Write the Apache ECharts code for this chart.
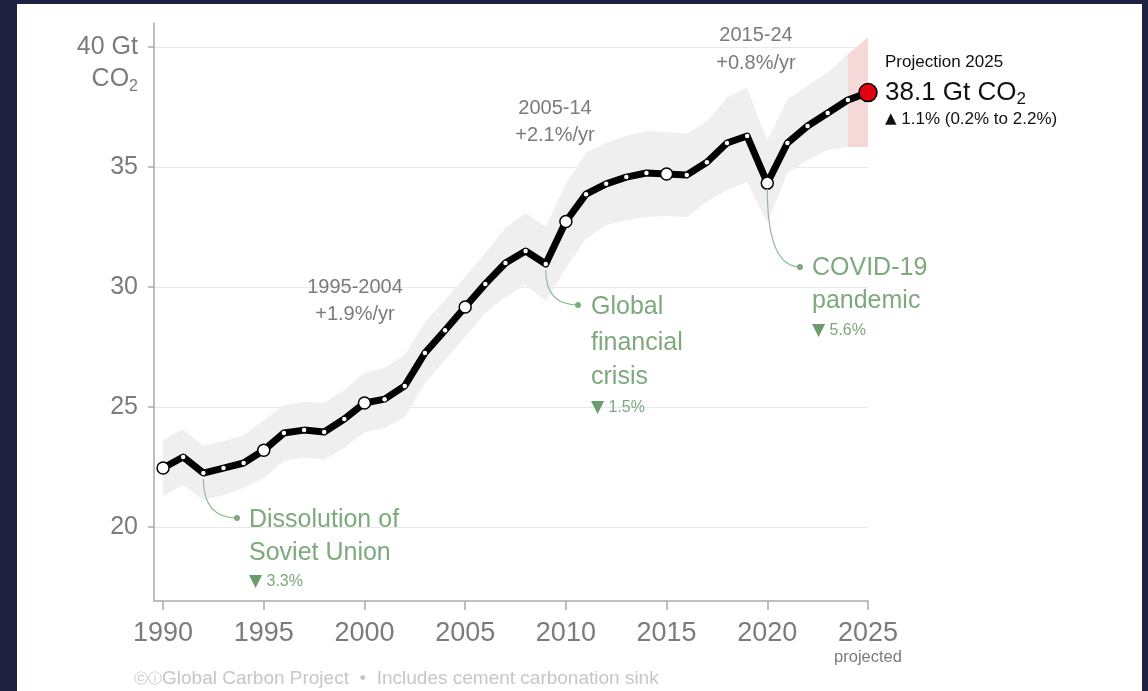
<!DOCTYPE html>
<html><head><meta charset="utf-8">
<script src="https://cdn.jsdelivr.net/npm/echarts@6/dist/echarts.min.js"></script>
<style>
html,body{margin:0;padding:0;width:1148px;height:691px;background:#1d2142;overflow:hidden}
#panel{position:absolute;left:17px;top:4px;width:1125px;height:687px;background:#fff}
#chart{position:absolute;left:0;top:0;width:1148px;height:691px}
</style></head><body>
<div id="panel"></div><div id="chart"></div>
<script>
// ---- data ----
const years = [1990,1991,1992,1993,1994,1995,1996,1997,1998,1999,2000,2001,2002,2003,2004,2005,2006,2007,2008,2009,2010,2011,2012,2013,2014,2015,2016,2017,2018,2019,2020,2021,2022,2023,2024,2025];
const emissions = [22.46,22.92,22.25,22.46,22.67,23.2,23.92,24.04,23.96,24.5,25.17,25.33,25.88,27.25,28.2,29.17,30.13,31.0,31.5,30.96,32.73,33.87,34.3,34.58,34.75,34.71,34.67,35.2,36.0,36.29,34.33,36.0,36.71,37.25,37.79,38.1];
const bandYears = [1990,1991,1992,1993,1994,1995,1996,1997,1998,1999,2000,2001,2002,2003,2004,2005,2006,2007,2008,2009,2010,2011,2012,2013,2014,2015,2016,2017,2018,2019,2020,2021,2022,2023,2024];
const bandHigh = [23.63,24.08,23.38,23.58,23.83,24.45,25.08,25.21,25.17,25.71,26.42,26.63,27.17,28.54,29.46,30.42,31.42,32.46,33.08,32.5,34.3,35.6,36.0,36.3,36.5,36.45,36.4,36.9,37.9,38.3,36.1,37.8,38.4,38.95,39.7];
const bandLow = [21.29,21.75,21.13,21.33,21.63,22.05,22.75,22.9,22.8,23.3,23.95,24.13,24.58,26.0,26.96,27.92,28.92,29.58,30.08,29.42,30.8,32.0,32.58,32.79,32.92,32.96,32.92,33.54,34.04,34.38,32.69,34.75,35.29,35.71,35.83];
const projYears = [2024,2025];
const projHigh = [39.7,40.4];
const projLow = [35.83,35.83];
const xTicks = [1990,1995,2000,2005,2010,2015,2020,2025];
const yTicks = [20,25,30,35,40];

// ---- styling ----
const SANS = "'Liberation Sans', Arial, Helvetica, sans-serif";
const GRAY = '#7b7b7b';
const GREEN = '#7ea97e';
const GREEN_DARK = '#6c9c6c';

const chart = echarts.init(document.getElementById('chart'), null, {renderer:'canvas'});

const lineData = years.map((y,i)=>{
  const isProj = i === years.length-1;
  const big = (y % 5 === 0) && !isProj;
  return {
    value:[y, emissions[i]],
    symbolSize: isProj ? 18 : (big ? 12 : 4.5),
    itemStyle: { color: isProj ? '#e3000f' : '#ffffff', borderColor:'#000', borderWidth: (isProj||big) ? 1.5 : 0 }
  };
});

function bandSeries(xs, lows, highs, fill) {
  return {
    type:'custom', coordinateSystem:'cartesian2d', silent:true, z:1, clip:false,
    data: xs.map((x,i)=>[x, lows[i], highs[i]]),
    encode:{x:0, y:[1,2]},
    renderItem:(params, api)=>{
      if (params.dataIndex !== 0) return null;
      const top = xs.map((x,i)=>api.coord([x, highs[i]]));
      const bot = xs.map((x,i)=>api.coord([x, lows[i]])).reverse();
      return {type:'polygon', shape:{points: top.concat(bot)}, style:{fill:fill}};
    }
  };
}

const option = {
  animation:false,
  backgroundColor:'transparent',
  grid:{left:154, right:280, top:23, bottom:90, containLabel:false},
  xAxis:{
    type:'value', min:1989.55, max:2025,
    axisLine:{show:true, lineStyle:{color:'#aaaaaa', width:1.5}},
    axisTick:{show:true, length:9, customValues:xTicks, lineStyle:{color:'#aaaaaa', width:1.5}},
    splitLine:{show:false},
    axisLabel:{
      customValues:xTicks, margin:18, color:GRAY,
      formatter:(v)=> v===2025 ? '{y|2025}\n{p|projected}' : '{y|'+v+'}',
      rich:{
        y:{fontFamily:SANS, fontSize:27, lineHeight:30, color:GRAY},
        p:{fontFamily:SANS, fontSize:16.5, lineHeight:16, color:GRAY}
      }
    }
  },
  yAxis:{
    type:'value', min:16.92, max:41,
    axisLine:{show:true, lineStyle:{color:'#aaaaaa', width:1.5}},
    axisTick:{show:true, length:6, customValues:yTicks, lineStyle:{color:'#aaaaaa', width:1.5}},
    splitLine:{show:true, lineStyle:{color:'#e8e8e8', width:1.2}},
    axisLabel:{
      customValues:yTicks, margin:16, color:GRAY,
      formatter:(v)=> v===40 ? '{e| }\n{a|40 Gt}\n{b|CO}{s|2}' : '{a|'+v+'}',
      rich:{
        e:{fontFamily:SANS, fontSize:25, lineHeight:32},
        a:{fontFamily:SANS, fontSize:25, lineHeight:32, color:GRAY},
        b:{fontFamily:SANS, fontSize:25, lineHeight:32, color:GRAY},
        s:{fontFamily:SANS, fontSize:16, lineHeight:32, color:GRAY, verticalAlign:'bottom'}
      }
    }
  },
  series:[
    bandSeries(bandYears, bandLow, bandHigh, '#efefef'),
    bandSeries(projYears, projLow, projHigh, '#f5d8d8'),
    {type:'line', data:lineData, z:5, symbol:'circle', showAllSymbol:true,
     lineStyle:{color:'#000', width:7, join:'round', cap:'round'}, silent:true}
  ]
};
chart.setOption(option);

// ---- annotations ----
function txt(x, y, text, opt) {
  return {type:'text', x:x, y:y, z:30, silent:true,
    style:Object.assign({text:text, fill:GRAY, fontFamily:SANS, fontSize:20, align:'left', verticalAlign:'middle'}, opt||{})};
}
function connector(year, value, dx, dy) {
  const p = chart.convertToPixel({gridIndex:0}, [year, value]);
  const sx = p[0], sy = p[1] + 6;
  return [
    {type:'bezierCurve', z:25, silent:true, shape:{x1:sx, y1:sy, x2:dx, y2:dy, cpx1:sx, cpy1:dy}, style:{stroke:'#93bb93', lineWidth:1.2, fill:null}},
    {type:'circle', z:26, silent:true, shape:{cx:dx, cy:dy, r:3}, style:{fill:GREEN}}
  ];
}
const pctRich = {t:{fontFamily:"'DejaVu Sans', sans-serif", fontSize:17, fill:GREEN_DARK, color:GREEN_DARK}, p:{fontFamily:SANS, fontSize:16, fill:GREEN, color:GREEN}};
const G = {fill:GREEN, fontSize:25};
const graphics = [].concat(
  connector(1992, emissions[2], 237, 518),
  connector(2009, emissions[19], 578, 305),
  connector(2020, emissions[30], 800, 267),
  [
    txt(249, 520, 'Dissolution of', G),
    txt(249, 553, 'Soviet Union', G),
    txt(249, 582, '{t|▼}{p| 3.3%}', {rich:pctRich}),
    txt(591, 307, 'Global', G),
    txt(591, 343, 'financial', G),
    txt(591, 377, 'crisis', G),
    txt(591, 408, '{t|▼}{p| 1.5%}', {rich:pctRich}),
    txt(812, 268, 'COVID-19', G),
    txt(812, 301, 'pandemic', G),
    txt(812, 331, '{t|▼}{p| 5.6%}', {rich:pctRich}),

    txt(355, 287, '1995-2004', {align:'center'}),
    txt(355, 314, '+1.9%/yr', {align:'center'}),
    txt(555, 108, '2005-14', {align:'center'}),
    txt(555, 135, '+2.1%/yr', {align:'center'}),
    txt(756, 35, '2015-24', {align:'center'}),
    txt(756, 63, '+0.8%/yr', {align:'center'}),

    txt(885, 62, 'Projection 2025', {fill:'#111', fontSize:17}),
    txt(885, 93, '{a|38.1 Gt CO}{s|2}', {rich:{
      a:{fontFamily:SANS, fontSize:26, fill:'#111', color:'#111', lineHeight:30},
      s:{fontFamily:SANS, fontSize:17, fill:'#111', color:'#111', lineHeight:30, verticalAlign:'bottom'}}}),
    txt(885, 119, '{t|▲}{p| 1.1% (0.2% to 2.2%)}', {rich:{
      t:{fontFamily:"'DejaVu Sans', sans-serif", fontSize:15, fill:'#111', color:'#111'},
      p:{fontFamily:SANS, fontSize:17, fill:'#111', color:'#111'}}}),

    txt(134, 679, '{i|ⓒⓘ}{t|Global Carbon Project  •  Includes cement carbonation sink}', {rich:{
      i:{fontFamily:"'DejaVu Sans', sans-serif", fontSize:14, fill:'#c6c6c6', color:'#c6c6c6'},
      t:{fontFamily:SANS, fontSize:19, fill:'#c6c6c6', color:'#c6c6c6'}}})
  ]
);
chart.setOption({graphic:graphics});
</script></body></html>
